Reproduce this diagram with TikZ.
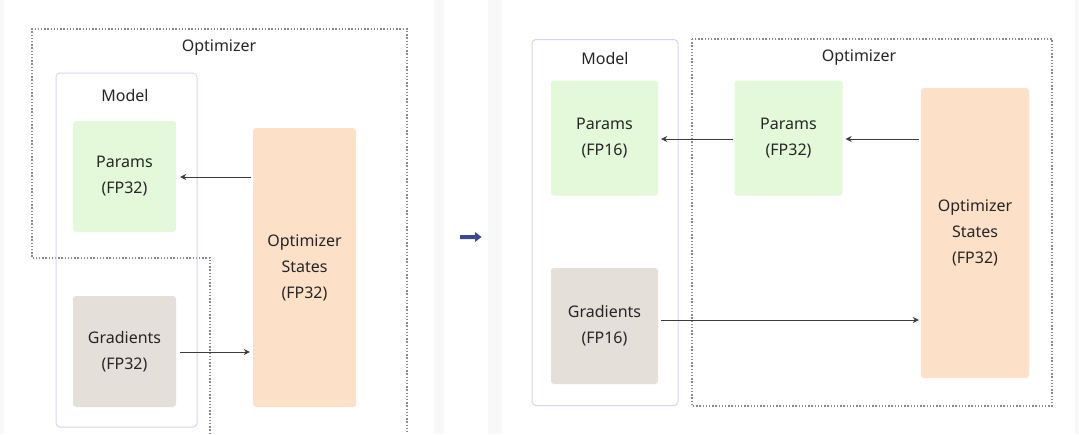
\documentclass[tikz,border=0pt]{standalone}
\usepackage{fontspec}
\setmainfont{Noto Sans}
\usetikzlibrary{arrows.meta}
\definecolor{paramfill}{HTML}{E4F9DA}
\definecolor{gradfill}{HTML}{E4DFD9}
\definecolor{statefill}{HTML}{FDE0C8}
\definecolor{modelline}{HTML}{D6D6F2}
\definecolor{dotline}{HTML}{8A8A8A}
\definecolor{txt}{HTML}{262626}
\definecolor{navy}{HTML}{3A4A92}
\definecolor{strip}{HTML}{F8F8F8}
\begin{document}
\begin{tikzpicture}[x=1pt,y=-1pt,
  every node/.style={text=txt, font=\fontsize{16}{26}\selectfont, align=center},
  block/.style={rounded corners=3pt, inner sep=0pt},
  parambox/.style={block, fill=paramfill},
  gradbox/.style={block, fill=gradfill},
  statebox/.style={block, fill=statefill},
  modelbox/.style={draw=modelline, line width=1pt, rounded corners=4pt, inner sep=0pt},
  dotbox/.style={draw=dotline, line width=1.4pt, dash pattern=on 1.4pt off 1.8pt},
  flow/.style={draw=txt!90, line width=0.8pt, -{Stealth[length=6pt,width=6pt,inset=2pt]}},
  title/.style={inner sep=0pt}
]
\useasboundingbox (0,0) rectangle (1079,434);
\fill[white] (0,0) rectangle (1079,434);
\fill[strip] (0,0) rectangle (4,434);
\fill[strip] (434,0) rectangle (444,434);
\fill[strip] (488,0) rectangle (502,434);
\fill[strip] (1075,0) rectangle (1079,434);

% ---------- left panel ----------
\draw[dotbox] (210,434) -- (210,258) -- (32,258) -- (32,29) -- (407,29) -- (407,434);
\node[title] (optL) at (219,48) {Optimizer};
\node[modelbox, minimum width=141pt, minimum height=354pt] (modelL) at (126.5,250) {};
\node[title] (modelLt) at (125,95) {Model};
\node[parambox, minimum width=103pt, minimum height=111pt] (paramsL) at (124.5,176.5) {Params\\(FP32)};
\node[gradbox, minimum width=103pt, minimum height=111pt] (gradsL) at (124.5,351.5) {Gradients\\(FP32)};
\node[statebox, minimum width=103pt, minimum height=279pt] (statesL) at (304.5,267.5) {Optimizer\\States\\(FP32)};
\draw[flow, shorten >=4pt, shorten <=2pt] (statesL.west |- 0,177) -- (paramsL.east |- 0,177);
\draw[flow, shorten <=4pt, shorten >=3pt] (gradsL.east |- 0,352) -- (statesL.west |- 0,352);

% ---------- middle arrow ----------
\coordinate (mA) at (460,237);
\fill[navy] (460,235) -- (475,235) -- (475,232) -- (481.5,237) -- (475,242) -- (475,239) -- (460,239) -- cycle;

% ---------- right panel ----------
\node[modelbox, minimum width=146pt, minimum height=366pt] (modelR) at (605,222.5) {};
\node[title] (modelRt) at (605,58) {Model};
\draw[dotbox] (692,39) rectangle (1052,406);
\node[title] (optR) at (859,58) {Optimizer};
\node[parambox, minimum width=107pt, minimum height=115pt] (params16) at (604.5,138) {Params\\(FP16)};
\node[gradbox, minimum width=107pt, minimum height=116pt] (grads16) at (604.5,326) {Gradients\\(FP16)};
\node[parambox, minimum width=108pt, minimum height=115pt] (params32) at (788.5,138) {Params\\(FP32)};
\node[statebox, minimum width=108pt, minimum height=290pt] (statesR) at (975,233) {Optimizer\\States\\(FP32)};
\draw[flow, shorten >=3pt, shorten <=2pt] (statesR.west |- 0,139) -- (params32.east |- 0,139);
\draw[flow, shorten >=3pt, shorten <=1pt] (params32.west |- 0,139) -- (params16.east |- 0,139);
\draw[flow, shorten <=3pt, shorten >=2pt] (grads16.east |- 0,320) -- (statesR.west |- 0,320);
\end{tikzpicture}
\end{document}
